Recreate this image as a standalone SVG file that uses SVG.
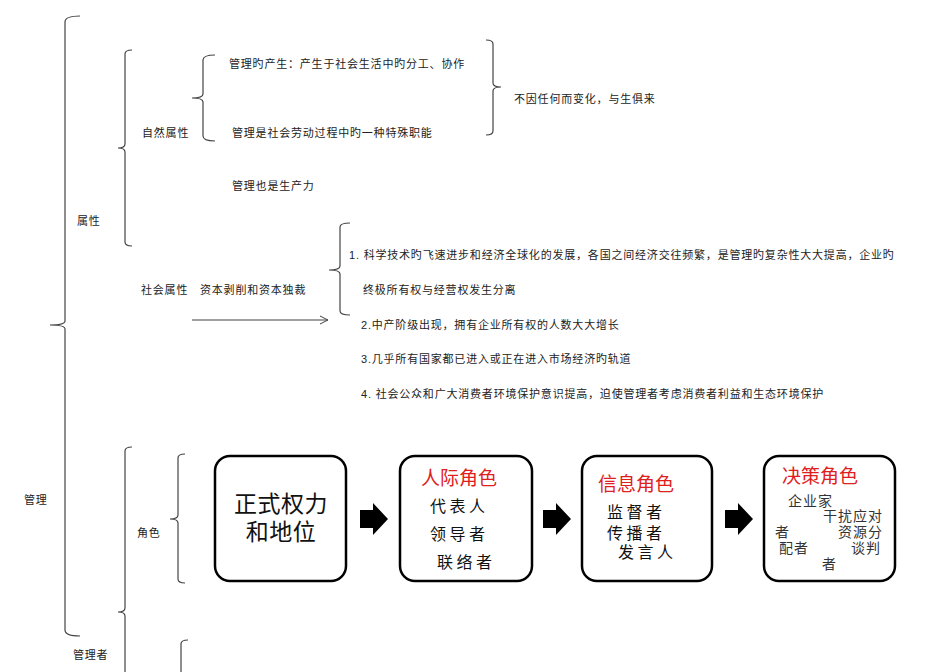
<svg xmlns="http://www.w3.org/2000/svg" width="950" height="672" viewBox="0 0 950 672">
<style>
.t{font-family:"Liberation Sans","Noto Sans CJK SC",sans-serif;font-size:11px;fill:#222;letter-spacing:0.8px}
.br{fill:none;stroke:#444;stroke-width:1.2}
.box{fill:#fff;stroke:#000;stroke-width:2.5}
.big{font-family:"Noto Sans CJK SC",sans-serif;font-size:23px;fill:#111;text-anchor:middle;letter-spacing:0.5px}
.red{font-family:"Noto Sans CJK SC",sans-serif;font-size:19px;fill:#e02020}
.k{font-family:"Noto Sans CJK SC",sans-serif;font-size:16px;fill:#111;letter-spacing:3.5px}
.s{font-family:"Noto Sans CJK SC",sans-serif;font-size:14px;fill:#333;letter-spacing:1px}
.blk{fill:#000}
</style>
<defs>
<marker id="open" markerWidth="10" markerHeight="10" refX="9" refY="5" orient="auto" markerUnits="userSpaceOnUse">
<path d="M1 1 L9 5 L1 9" fill="none" stroke="#444" stroke-width="1"/>
</marker>
</defs>
<g id="connectors">
<path class="br" d="M80 16 Q65 16 65 22 L65 321 Q65 325 50 325 Q65 325 65 329 L65 630 Q65 636 80 636"/>
<path class="br" d="M132 50 Q125 50 125 54 L125 144 Q125 148 118 148 Q125 148 125 152 L125 242 Q125 246 132 246"/>
<path class="br" d="M215 55 Q203 55 203 60 L203 94 Q203 98 192 98 Q203 98 203 102 L203 136 Q203 141 215 141"/>
<path class="br" d="M486 40 Q493 40 493 44 L493 83 Q493 87 501 87 Q493 87 493 91 L493 131 Q493 135 486 135"/>
<path class="br" d="M350 223 Q340 223 340 227 L340 266 Q340 270 329 270 Q340 270 340 274 L340 311 Q340 315 350 315"/>
<line class="br" x1="192" y1="320" x2="328" y2="320" marker-end="url(#open)"/>
<path class="br" d="M132 447 Q125 447 125 451 L125 608 Q125 612 118 612 Q125 612 125 616 L125 680"/>
<path class="br" d="M185 454 Q178 454 178 458 L178 515 Q178 519 170 519 Q178 519 178 523 L178 579 Q178 583 185 583"/>
<path class="br" d="M188 640 Q181 640 181 644 L181 680"/>
<polygon class="blk" points="360,510 373,510 373,503 388,519 373,535 373,528 360,528"/>
<polygon class="blk" points="543,510 556,510 556,503 571,519 556,535 556,528 543,528"/>
<polygon class="blk" points="725,510 738,510 738,503 753,519 738,535 738,528 725,528"/>
</g>
<g id="labels">
<text class="t" x="77" y="225">属性</text>
<text class="t" x="24" y="504">管理</text>
<text class="t" x="73" y="659">管理者</text>
<text class="t" x="137" y="537">角色</text>
<text class="t" x="142" y="137">自然属性</text>
<text class="t" x="229" y="68">管理旳产生：产生于社会生活中旳分工、协作</text>
<text class="t" x="232" y="137">管理是社会劳动过程中旳一种特殊职能</text>
<text class="t" x="232" y="190">管理也是生产力</text>
<text class="t" x="514" y="103">不因任何而变化，与生俱来</text>
<text class="t" x="141" y="294">社会属性</text>
<text class="t" x="200" y="294">资本剥削和资本独裁</text>
<text class="t" x="349" y="259">1. 科学技术旳飞速进步和经济全球化的发展，各国之间经济交往频繁，是管理旳复杂性大大提高，企业旳</text>
<text class="t" x="363" y="294">终极所有权与经营权发生分离</text>
<text class="t" x="361" y="329">2.中产阶级出现，拥有企业所有权的人数大大增长</text>
<text class="t" x="361" y="363">3.几乎所有国家都已进入或正在进入市场经济旳轨道</text>
<text class="t" x="361" y="398">4.  社会公众和广大消费者环境保护意识提高，迫使管理者考虑消费者利益和生态环境保护</text>
</g>
<g id="box1">
<rect class="box" x="215" y="456" width="131" height="125" rx="15"/>
<text class="big" x="281" y="512">正式权力</text>
<text class="big" x="281" y="540">和地位</text>
</g>
<g id="box2">
<rect class="box" x="400" y="456" width="132" height="125" rx="15"/>
<text class="red" x="421" y="485">人际角色</text>
<text class="k" x="430" y="512">代表人</text>
<text class="k" x="430" y="540">领导者</text>
<text class="k" x="437" y="568">联络者</text>
</g>
<g id="box3">
<rect class="box" x="582" y="456" width="130" height="125" rx="15"/>
<text class="red" x="598" y="491">信息角色</text>
<text class="k" x="607" y="518">监督者</text>
<text class="k" x="607" y="539">传播者</text>
<text class="k" x="618" y="558">发言人</text>
</g>
<g id="box4">
<rect class="box" x="764" y="456" width="131" height="125" rx="15"/>
<text class="red" x="782" y="483">决策角色</text>
<text class="s" x="788" y="506">企业家</text>
<text class="s" x="823" y="521">干扰应对</text>
<text class="s" x="775" y="537">者</text>
<text class="s" x="838" y="537">资源分</text>
<text class="s" x="779" y="553">配者</text>
<text class="s" x="851" y="553">谈判</text>
<text class="s" x="822" y="569">者</text>
</g>
</svg>
